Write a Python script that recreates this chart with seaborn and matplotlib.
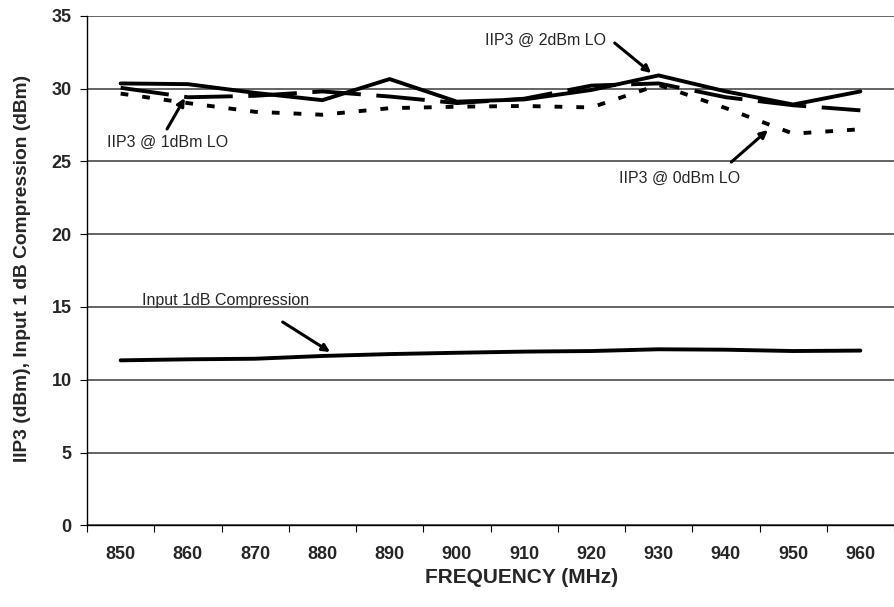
import matplotlib

matplotlib.use("Agg")

import matplotlib.pyplot as plt
import numpy as np
import pandas as pd
import seaborn as sns

# Values
freq_mhz = [850, 860, 870, 880, 890, 900, 910, 920, 930, 940, 950, 960]
iip3_2dbm = [30.35, 30.3, 29.7, 29.2, 30.65, 29.1, 29.25, 29.9, 30.9, 29.8, 28.9, 29.8]
iip3_1dbm = [30.05, 29.4, 29.5, 29.8, 29.45, 29.0, 29.3, 30.2, 30.35, 29.4, 28.85, 28.5]
iip3_0dbm = [29.65, 29.0, 28.4, 28.2, 28.65, 28.75, 28.8, 28.7, 30.25, 28.65, 26.9, 27.2]
p1db_input = [11.33, 11.4, 11.44, 11.63, 11.76, 11.85, 11.93, 11.97, 12.09, 12.06, 11.97, 12.0]

series = {
    "IIP3 @ 2dBm LO": iip3_2dbm,
    "IIP3 @ 1dBm LO": iip3_1dbm,
    "IIP3 @ 0dBm LO": iip3_0dbm,
    "Input 1dB Compression": p1db_input,
}
df = pd.concat(
    [pd.DataFrame({"freq": freq_mhz, "value": v, "curve": k}) for k, v in series.items()]
)

sns.set_theme(style="white")
plt.rcParams["font.family"] = ["Liberation Sans", "DejaVu Sans"]

fig = plt.figure(figsize=(8.94, 6.07), dpi=100)
ax = fig.add_axes([87 / 894, 0.1346, 807 / 894, 0.8395])

sns.lineplot(
    data=df,
    x="freq",
    y="value",
    hue="curve",
    style="curve",
    palette={k: "black" for k in series},
    dashes={
        "IIP3 @ 2dBm LO": "",
        "IIP3 @ 1dBm LO": (12.5, 4),
        "IIP3 @ 0dBm LO": (2, 3.6),
        "Input 1dB Compression": "",
    },
    linewidth=2.8,
    legend=False,
    ax=ax,
)

step = 68.05  # px per category
ax.set_xlim(845, 845 + 10 * 807 / step)
ax.set_ylim(0, 35)
ax.set_xticks(np.arange(845, 966, 10))
ax.set_xticklabels([])
ax.set_xticks(freq_mhz, minor=True)
ax.set_xticklabels([str(f) for f in freq_mhz], minor=True, fontsize=13, fontweight="bold")
ax.set_yticks(np.arange(0, 36, 5))
ax.set_yticklabels([str(v) for v in range(0, 36, 5)], fontsize=13, fontweight="bold")
ax.tick_params(axis="x", which="major", direction="out", length=5, width=0.8, color="black", bottom=True)
ax.tick_params(axis="x", which="minor", length=0, pad=15)
ax.tick_params(axis="y", which="major", direction="out", length=5, width=0.8, color="black", left=True, pad=6)

ax.grid(axis="y", color="#3a3a3a", linewidth=1.1)
for side in ["top", "right"]:
    ax.spines[side].set_visible(False)
for side in ["left", "bottom"]:
    ax.spines[side].set_color("black")
    ax.spines[side].set_linewidth(1.0)

ax.set_xlabel("FREQUENCY (MHz)", fontsize=15, fontweight="bold", va="center")
ax.xaxis.set_label_coords(0.539, -0.103)
ax.set_ylabel("IIP3 (dBm), Input 1 dB Compression (dBm)", fontsize=13.8, fontweight="bold", va="center")
ax.yaxis.set_label_coords(-0.0805, 0.505)


def px(x, y):
    """Convert reference pixel position to data coords."""
    return 845 + (x - 87) / step * 10, (525.3 - y) / 14.56


arrow = dict(arrowstyle="-|>", color="black", lw=2.2, mutation_scale=11, shrinkA=0, shrinkB=0)
notes = [
    ("IIP3 @ 2dBm LO", (490, 40), (621, 43), (658, 73)),
    ("IIP3 @ 1dBm LO", (107, 142), (168, 129), (186, 98)),
    ("IIP3 @ 0dBm LO", (625, 178), (739, 162), (776, 130)),
    ("Input 1dB Compression", (143, 300), (285, 322), (333, 352)),
]
for text, tpos, tail, head in notes:
    ax.text(*px(*tpos), text, fontsize=11.5, va="center", ha="left")
    ax.annotate("", xy=px(*head), xytext=px(*tail), arrowprops=arrow)

fig.savefig("out.png", dpi=100, facecolor="white")
